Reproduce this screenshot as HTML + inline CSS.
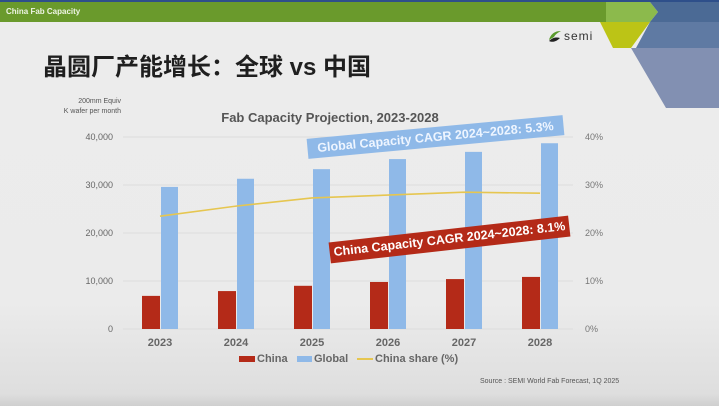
<!DOCTYPE html>
<html><head><meta charset="utf-8">
<style>
body{margin:0;}
#slide{position:relative;width:719px;height:406px;overflow:hidden;background:linear-gradient(to bottom,#ececec 0%,#ebebeb 75%,#dedede 97%,#cfcfcf 100%);font-family:"Liberation Sans",sans-serif;}
.abs{position:absolute;}
.sw{display:inline-block;vertical-align:middle;margin-right:2px;}
</style></head>
<body>
<div id="slide">
<svg class="abs" style="left:0;top:0" width="719" height="110">
  <rect x="0" y="0" width="719" height="2" fill="#2e4f8a"/>
  <rect x="0" y="2" width="606" height="20" fill="#6a9a2c"/>
  <polygon points="606,2 650,2 658,12 650,22 606,22" fill="#8cba4c"/>
  <polygon points="650,2 719,2 719,22 650,22 658,12" fill="#4b6a95"/>
  <polygon points="600,22 650,22 631,48 613,48" fill="#bcc416"/>
  <polygon points="650,22 719,22 719,48 636,48" fill="#5f7aa3"/>
  <polygon points="631,48 719,48 719,108 666,108" fill="#8290b2"/>
</svg>
<div class="abs" style="left:6px;top:7px;font-size:8px;font-weight:bold;color:#eef4e4">China Fab Capacity</div>
<div class="abs" style="left:547px;top:28px;width:70px;height:16px">
  <svg width="16" height="16" style="position:absolute;left:0;top:0"><path d="M2,12 C4,5 9,3 14,3 C10,5 8,7 7,9 Z" fill="#5a9a2c"/><path d="M2,13 C6,9 10,9 13,10 C10,13 6,15 2,13Z" fill="#222"/></svg>
  <span style="position:absolute;left:17px;top:1px;font-size:12px;color:#333;letter-spacing:1px">semi</span>
</div>
<div class="abs" style="left:43px;top:47px;font-size:24px;font-weight:bold;color:#1f1f1f;font-family:'Liberation Sans','Noto Sans CJK SC',sans-serif">晶圆厂产能增长：全球 vs 中国</div>
<div class="abs" style="left:40px;top:97px;width:81px;text-align:right;font-size:7px;line-height:10px;color:#555">200mm Equiv<br>K wafer per month</div>
<div class="abs" style="left:200px;top:110px;width:260px;text-align:center;font-size:13px;font-weight:bold;color:#555">Fab Capacity Projection, 2023-2028</div>
<svg id="chart" class="abs" style="left:0;top:0" width="719" height="406"></svg>
<div class="abs" style="left:307px;top:127px;width:257px;height:20px;background:#8fb9e8;transform:rotate(-5.3deg);color:#eef5ff;font-size:12.5px;font-weight:bold;line-height:20px;text-align:center">Global Capacity CAGR 2024~2028: 5.3%</div>
<div class="abs" style="left:329px;top:229px;width:241px;height:21px;background:#b42a18;transform:rotate(-6.4deg);color:#fff;font-size:12.5px;font-weight:bold;line-height:21px;text-align:center">China Capacity CAGR 2024~2028: 8.1%</div>
<div class="abs" style="left:239px;top:353px;font-size:11px;font-weight:bold;color:#666"><span class="sw" style="width:16px;height:6px;background:#b42a18"></span>China</div>
<div class="abs" style="left:297px;top:353px;font-size:11px;font-weight:bold;color:#666"><span class="sw" style="width:15px;height:6px;background:#8fb9e8"></span>Global</div>
<div class="abs" style="left:357px;top:353px;font-size:11px;font-weight:bold;color:#666"><span class="sw" style="width:16px;height:2px;background:#e6c650"></span>China share (%)</div>
<div class="abs" style="left:480px;top:378px;font-size:7px;color:#555">Source : SEMI World Fab Forecast, 1Q 2025</div>
</div>
<script>
const categories=["2023","2024","2025","2026","2027","2028"];
const chinaValues=[6900,7900,9000,9800,10400,10850];
const globalValues=[29600,31300,33300,35400,36900,38700];
const shareValues=[23.5,25.6,27.3,27.9,28.5,28.3];
const leftTicks=[0,10000,20000,30000,40000];
const leftTickLabels=["0","10,000","20,000","30,000","40,000"];
const rightTickLabels=["0%","10%","20%","30%","40%"];
const NS="http://www.w3.org/2000/svg";
const svg=document.getElementById('chart');
const y0=329,yTop=137,xFirst=160,step=76;
function yL(v){return y0-(v/40000)*(y0-yTop);}
function yR(p){return y0-(p/40)*(y0-yTop);}
function xC(i){return xFirst+i*step;}
function mk(tag,attrs){const e=document.createElementNS(NS,tag);for(const k in attrs)e.setAttribute(k,attrs[k]);svg.appendChild(e);return e;}
leftTicks.forEach((t,i)=>{
  const g=mk('line',{x1:123,x2:573,y1:yL(t),y2:yL(t),stroke:'#dcdcdc','stroke-width':1});
  
  
  const l=mk('text',{x:113,y:yL(t)+3,'text-anchor':'end','font-size':9,fill:'#666','font-family':'Liberation Sans, sans-serif'});
  l.textContent=leftTickLabels[i];
  
  
  const r=mk('text',{x:585,y:yL(t)+3,'font-size':9,fill:'#777','font-family':'Liberation Sans, sans-serif'});
  r.textContent=rightTickLabels[i];
  
  
});
categories.forEach((c,i)=>{
  const cb=mk('rect',{x:xC(i)-18,y:yL(chinaValues[i]),width:18,height:y0-yL(chinaValues[i]),fill:'#b42a18'});
  
  
  const gb=mk('rect',{x:xC(i)+1,y:yL(globalValues[i]),width:17,height:y0-yL(globalValues[i]),fill:'#8fb9e8'});
  
  
  const t=mk('text',{x:xC(i),y:346,'text-anchor':'middle','font-size':11,'font-weight':'bold',fill:'#666','font-family':'Liberation Sans, sans-serif'});
  t.textContent=c;
  
  
});
let d='';
shareValues.forEach((p,i)=>{d+=(i?'L':'M')+xC(i)+','+yR(p);});
const ln=mk('path',{d:d,fill:'none',stroke:'#e6c650','stroke-width':1.6});


</script>
</body></html>
